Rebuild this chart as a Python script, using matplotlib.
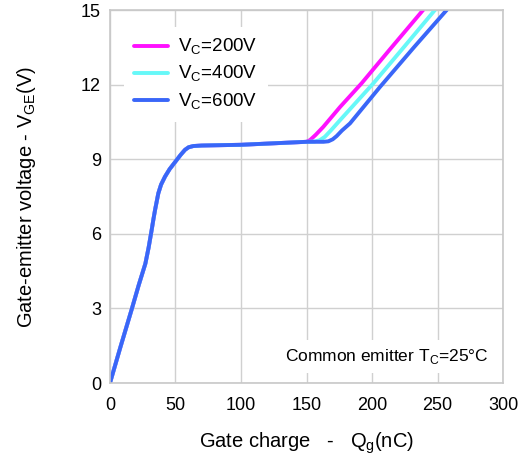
import matplotlib.pyplot as plt

plt.rcParams['font.family'] = ['Liberation Sans', 'DejaVu Sans']

# shared turn-on + Miller plateau part (nC, V)
q_common = [0, 8, 16.5, 22, 27, 29.5, 31.8, 33.2, 34.4, 36.9, 39, 42, 45.5, 49.6, 54, 57.3, 60, 63.6, 70, 100, 125, 150]
v_common = [0, 1.45, 2.95, 3.95, 4.8, 5.45, 6.15, 6.6, 6.96, 7.63, 7.98, 8.3, 8.6, 8.88, 9.18, 9.38, 9.48, 9.53, 9.55, 9.58, 9.64, 9.7]

# rise after the plateau for each collector voltage
q_200 = [150, 152.7, 157, 162.8, 175.6, 192, 213.7, 239]
v_200 = [9.7, 9.77, 9.98, 10.3, 11.1, 12.05, 13.42, 15.0]
q_400 = [150, 156, 160, 164, 169, 175.6, 201, 225, 248]
v_400 = [9.7, 9.71, 9.76, 9.9, 10.18, 10.57, 12.05, 13.55, 15.0]
q_600 = [150, 163, 166.7, 170, 173, 177, 183.2, 206, 232, 257]
v_600 = [9.7, 9.7, 9.72, 9.8, 9.93, 10.15, 10.44, 11.9, 13.5, 15.0]

series = [
    ("V$_\\mathregular{C}$=200V", q_200, v_200, "#ff10ff"),
    ("V$_\\mathregular{C}$=400V", q_400, v_400, "#66f8f8"),
    ("V$_\\mathregular{C}$=600V", q_600, v_600, "#3a66f8"),
]

fig = plt.figure(figsize=(5.23, 4.66), dpi=100)
ax = fig.add_axes([0.2103, 0.1781, 0.7515, 0.8004])

for label, qs, vs, col in series:
    ax.plot(q_common + qs[1:], v_common + vs[1:], color=col, lw=2.8,
            label=label, solid_capstyle='round', solid_joinstyle='round')

ax.set_xlim(0, 300)
ax.set_ylim(0, 15)
ax.set_xticks(range(0, 301, 50))
ax.set_yticks(range(0, 16, 3))
ax.grid(True, color='#d0d0d0', lw=1.0)
ax.set_axisbelow(True)
for s in ax.spines.values():
    s.set_color('#c8c8c8')
    s.set_linewidth(1.2)
ax.tick_params(length=0, labelsize=13)
ax.tick_params(axis='x', pad=10)
ax.tick_params(axis='y', pad=6.5)

ax.set_xlabel("Gate charge   -   Q$_\\mathregular{g}$(nC)", fontsize=14.5, labelpad=12)
ax.set_ylabel("Gate-emitter voltage - V$_\\mathregular{GE}$(V)", fontsize=14.5, labelpad=31)

leg = ax.legend(loc='upper left', bbox_to_anchor=(0.035, 0.955), fontsize=13.5,
                frameon=True, fancybox=False, edgecolor='none', framealpha=1.0,
                handlelength=1.8, handletextpad=0.55, labelspacing=0.36,
                borderpad=0.55, borderaxespad=0)

ax.text(0.962, 0.072, "Common emitter T$_\\mathregular{C}$=25°C", transform=ax.transAxes,
        ha='right', va='center', fontsize=12.5,
        bbox=dict(facecolor='white', edgecolor='none', pad=5))

fig.savefig("out.png", dpi=100)
